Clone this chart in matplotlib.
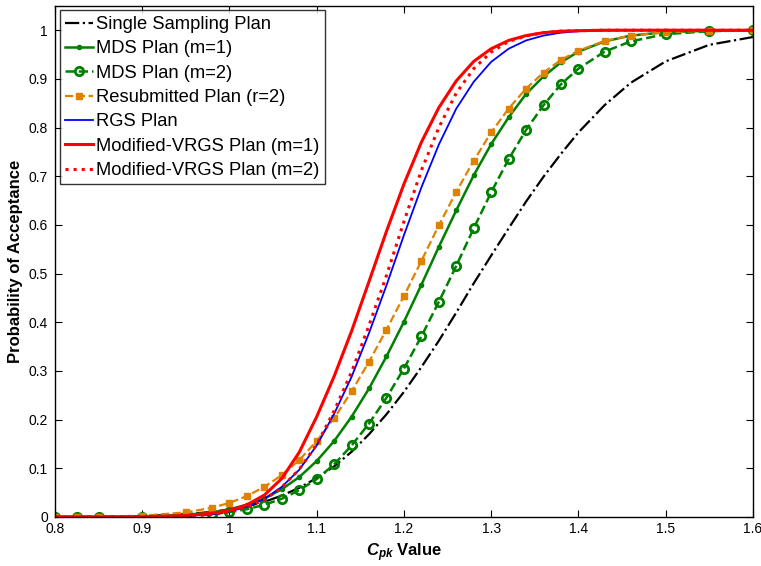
import matplotlib
matplotlib.use("Agg")
import matplotlib.pyplot as plt
from matplotlib.ticker import FuncFormatter

plt.rcParams['font.family'] = ['Liberation Sans', 'DejaVu Sans']
plt.rcParams['mathtext.fontset'] = 'custom'
plt.rcParams['mathtext.it'] = 'Liberation Sans:italic:bold'
plt.rcParams['mathtext.rm'] = 'Liberation Sans:bold'

# Cpk grid and OC curve values
cpk = [0.80, 0.825, 0.85, 0.90, 0.95, 0.98, 1.00, 1.02, 1.04, 1.06, 1.08, 1.10,
       1.12, 1.14, 1.16, 1.18, 1.20, 1.22, 1.24, 1.26, 1.28, 1.30, 1.32, 1.34,
       1.36, 1.38, 1.40, 1.43, 1.46, 1.50, 1.55, 1.60]

single = [0.0001, 0.0003, 0.0005, 0.0018, 0.0057, 0.0105, 0.0154, 0.022, 0.031, 0.044, 0.060, 0.080,
          0.104, 0.134, 0.170, 0.211, 0.257, 0.308, 0.362, 0.420, 0.480, 0.537, 0.593, 0.648,
          0.699, 0.746, 0.790, 0.846, 0.892, 0.936, 0.970, 0.986]

mds1 = [0.0, 0.0001, 0.0002, 0.001, 0.0043, 0.0096, 0.0158, 0.025, 0.038, 0.057, 0.082, 0.115,
        0.156, 0.206, 0.264, 0.330, 0.401, 0.477, 0.555, 0.630, 0.702, 0.766, 0.821, 0.869,
        0.905, 0.934, 0.956, 0.977, 0.989, 0.996, 0.999, 1.0]

mds2 = [0.0, 0.0, 0.0001, 0.0006, 0.0027, 0.006, 0.0099, 0.016, 0.025, 0.0375, 0.055, 0.078,
        0.108, 0.147, 0.192, 0.245, 0.305, 0.371, 0.442, 0.516, 0.593, 0.667, 0.735, 0.795,
        0.846, 0.889, 0.921, 0.956, 0.977, 0.992, 0.998, 1.0]

resub = [0.0001, 0.0003, 0.0006, 0.0026, 0.0094, 0.019, 0.029, 0.043, 0.062, 0.086, 0.117, 0.156,
         0.203, 0.258, 0.319, 0.385, 0.454, 0.526, 0.599, 0.668, 0.732, 0.790, 0.839, 0.880,
         0.913, 0.939, 0.958, 0.978, 0.989, 0.996, 0.999, 1.0]

rgs = [0.0, 0.0, 0.0, 0.0002, 0.0019, 0.0057, 0.0113, 0.021, 0.037, 0.062, 0.097, 0.147,
       0.212, 0.288, 0.378, 0.476, 0.579, 0.677, 0.765, 0.839, 0.894, 0.935, 0.962, 0.979,
       0.989, 0.995, 0.998, 0.9994, 1.0, 1.0, 1.0, 1.0]

vrgs1 = [0.0, 0.0, 0.0, 0.0003, 0.003, 0.008, 0.013, 0.025, 0.045, 0.079, 0.133, 0.206,
         0.289, 0.382, 0.484, 0.587, 0.684, 0.770, 0.841, 0.896, 0.936, 0.962, 0.979, 0.989,
         0.995, 0.998, 0.999, 1.0, 1.0, 1.0, 1.0, 1.0]

vrgs2 = [0.0, 0.0, 0.0, 0.0002, 0.0015, 0.005, 0.010, 0.020, 0.035, 0.061, 0.098, 0.149,
         0.218, 0.298, 0.394, 0.496, 0.607, 0.712, 0.800, 0.871, 0.921, 0.955, 0.977, 0.988,
         0.995, 0.998, 0.999, 1.0, 1.0, 1.0, 1.0, 1.0]

green = '#008000'
orange = '#DF8200'

fig = plt.figure(figsize=(7.61, 5.66), dpi=100)
ax = fig.add_axes([0.0723, 0.0866, 0.917, 0.903])

ax.plot(cpk, single, '-.', color='black', lw=1.6, label='Single Sampling Plan')
ax.plot(cpk, mds1, '-', color=green, lw=1.8, marker='.', ms=6, label='MDS Plan (m=1)')
ax.plot(cpk, mds2, '--', color=green, lw=1.8, marker='o', ms=6, mfc='none', mew=2,
        label='MDS Plan (m=2)')
ax.plot(cpk, resub, '--', color=orange, lw=1.6, marker='s', ms=5, label='Resubmitted Plan (r=2)')
ax.plot(cpk, rgs, '-', color='blue', lw=1.3, label='RGS Plan')
ax.plot(cpk, vrgs1, '-', color='red', lw=2.2, label='Modified-VRGS Plan (m=1)')
ax.plot(cpk, vrgs2, ':', color='red', lw=2.2, label='Modified-VRGS Plan (m=2)')

ax.set_xlim(0.8, 1.6)
ax.set_ylim(0, 1.05)
ax.set_xticks([0.8, 0.9, 1.0, 1.1, 1.2, 1.3, 1.4, 1.5, 1.6])
ax.set_yticks([0, 0.1, 0.2, 0.3, 0.4, 0.5, 0.6, 0.7, 0.8, 0.9, 1.0])
fmt = FuncFormatter(lambda v, p: ('%.1f' % v).rstrip('0').rstrip('.') if v != 0 else '0')
ax.xaxis.set_major_formatter(fmt)
ax.yaxis.set_major_formatter(fmt)
ax.tick_params(direction='in', top=True, right=True, length=5, labelsize=10)
ax.tick_params(axis='y', pad=5)
for s in ax.spines.values():
    s.set_linewidth(1.0)

ax.set_xlabel(r'$C_{pk}$ Value', fontsize=12, fontweight='bold')
ax.set_ylabel('Probability of Acceptance', fontsize=12, fontweight='bold')

leg = ax.legend(loc='upper left', fontsize=13.2, frameon=True, fancybox=False,
                edgecolor='black', borderaxespad=0.25, handlelength=1.5,
                handletextpad=0.2, labelspacing=0.4, borderpad=0.3)
leg.get_frame().set_linewidth(1.0)

fig.savefig('out.png', dpi=100)
